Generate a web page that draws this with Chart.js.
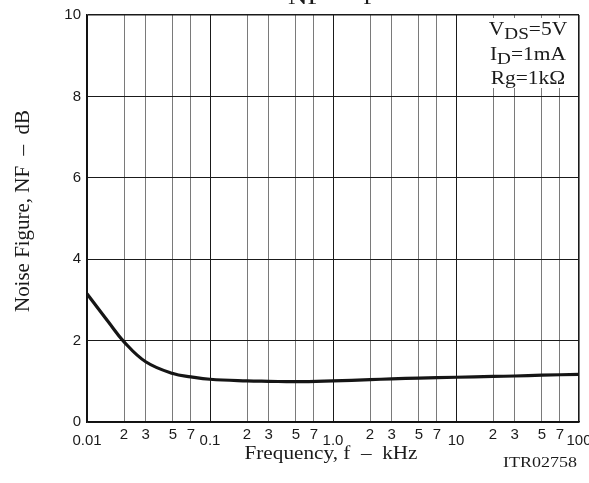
<!DOCTYPE html>
<html>
<head>
<meta charset="utf-8">
<script src="https://cdn.jsdelivr.net/npm/chart.js@4"></script>
<style>
    html, body { margin: 0; padding: 0; background: #fff; }
    canvas { display: block; }
</style>
</head>
<body>
<canvas id="nfChart" width="589" height="483"></canvas>
<script>
// Noise figure vs frequency
const freqKHz = [0.01, 0.015, 0.02, 0.03, 0.05, 0.07, 0.1, 0.2, 0.3, 0.5, 1, 2, 3, 5, 10, 20, 30, 50, 100];
const noiseFigure = [3.15, 2.45, 1.97, 1.48, 1.19, 1.11, 1.05, 1.01, 1.0, 0.99, 1.01, 1.04, 1.06, 1.08, 1.10, 1.12, 1.13, 1.15, 1.17];

// Grid / tick labels
const xTickValues = [0.01, 0.02, 0.03, 0.05, 0.07, 0.1, 0.2, 0.3, 0.5, 0.7, 1, 2, 3, 5, 7, 10, 20, 30, 50, 70, 100];
const xTickLabels = ['0.01', '2', '3', '5', '7', '0.1', '2', '3', '5', '7', '1.0', '2', '3', '5', '7', '10', '2', '3', '5', '7', '100'];
const yTickValues = [0, 2, 4, 6, 8, 10];

// Texts
const chartTitle = 'NF  \u2013  f';
const xTitle = 'Frequency, f  \u2013  kHz';
const yTitle = 'Noise Figure, NF  \u2013  dB';
const figureCode = 'ITR02758';
const paramLines = [
    [['V', false], ['DS', true], ['=5V', false]],
    [['I', false], ['D', true], ['=1mA', false]],
    [['Rg=1k\u03A9', false]],
];

const SANS = '"Liberation Sans", Arial, sans-serif';
const SERIF = '"Liberation Serif", "Times New Roman", serif';

const isDecade = v => Math.abs(Math.log10(v) - Math.round(Math.log10(v))) < 1e-6;

// Draw text squeezed/stretched horizontally to a given width
function fitText(ctx, text, x, y, width, align) {
    const w = ctx.measureText(text).width;
    const sx = width / w;
    ctx.save();
    ctx.translate(x, y);
    ctx.scale(sx, 1);
    ctx.textAlign = align;
    ctx.fillText(text, 0, 0);
    ctx.restore();
}

const labelsPlugin = {
    id: 'nfLabels',
    afterDraw(chart) {
        const { ctx, scales: { x } } = chart;
        ctx.save();
        ctx.fillStyle = '#1a1a1a';
        ctx.textBaseline = 'alphabetic';

        // x tick labels: decades sit lower than 2/3/5/7
        ctx.font = `15px ${SANS}`;
        ctx.textAlign = 'center';
        xTickValues.forEach((v, i) => {
            const px = x.getPixelForValue(v);
            ctx.fillText(xTickLabels[i], px, isDecade(v) ? 445 : 439);
        });

        // condition box
        ctx.fillStyle = '#fff';
        ctx.fillRect(486, 18, 89, 70);
        ctx.fillStyle = '#1a1a1a';
        const sx = 1.13;
        const baselines = [35, 60, 84];
        paramLines.forEach((segs, li) => {
            const parts = segs.map(([t, sub]) => {
                ctx.font = `${sub ? 17 : 19}px ${SERIF}`;
                return { t, sub, w: ctx.measureText(t).width * sx };
            });
            const total = parts.reduce((a, p) => a + p.w, 0);
            let px = 528 - total / 2;
            parts.forEach(p => {
                ctx.font = `${p.sub ? 17 : 19}px ${SERIF}`;
                ctx.save();
                ctx.translate(px, baselines[li] + (p.sub ? 4 : 0));
                ctx.scale(sx, 1);
                ctx.textAlign = 'left';
                ctx.fillText(p.t, 0, 0);
                ctx.restore();
                px += p.w;
            });
        });

        // axis titles
        ctx.font = `18px ${SERIF}`;
        fitText(ctx, xTitle, 331, 459, 173, 'center');

        ctx.save();
        ctx.translate(29, 211);
        ctx.rotate(-Math.PI / 2);
        ctx.font = `20px ${SERIF}`;
        fitText(ctx, yTitle, 0, 0, 202, 'center');
        ctx.restore();

        ctx.font = `15px ${SERIF}`;
        fitText(ctx, figureCode, 503, 467, 74, 'left');

        // title, mostly cut off at the top edge
        ctx.font = `20px ${SERIF}`;
        fitText(ctx, chartTitle, 330, 4, 84, 'center');

        ctx.restore();
    }
};

const canvas = document.getElementById('nfChart');
new Chart(canvas, {
    type: 'line',
    data: {
        datasets: [{
            data: freqKHz.map((f, i) => ({ x: f, y: noiseFigure[i] })),
            borderColor: '#151515',
            borderWidth: 3.2,
            pointRadius: 0,
            tension: 0.4,
            fill: false,
        }],
    },
    options: {
        responsive: false,
        animation: false,
        layout: { padding: { top: 14, right: 10, bottom: 0, left: 0 } },
        plugins: {
            legend: { display: false },
            tooltip: { enabled: false },
        },
        scales: {
            x: {
                type: 'logarithmic',
                min: 0.01,
                max: 100,
                afterBuildTicks: s => { s.ticks = xTickValues.map(v => ({ value: v })); },
                afterFit: s => { s.height = 61; },
                ticks: { display: false },
                grid: {
                    drawTicks: false,
                    color: c => (c.tick && isDecade(c.tick.value) ? '#1a1a1a' : '#7a7a7a'),
                    lineWidth: c => (c.tick && c.tick.value === 100 ? 1.6 : 1),
                },
                border: { color: '#111', width: 1.6 },
            },
            y: {
                min: 0,
                max: 10,
                afterBuildTicks: s => { s.ticks = yTickValues.map(v => ({ value: v })); },
                afterFit: s => { s.width = 87; },
                ticks: {
                    font: { family: SANS, size: 15 },
                    color: '#1a1a1a',
                    padding: 6,
                },
                grid: {
                    drawTicks: false,
                    color: '#1a1a1a',
                    lineWidth: c => (c.tick && c.tick.value === 10 ? 1.6 : 1),
                },
                border: { color: '#111', width: 1.6 },
            },
        },
    },
    plugins: [labelsPlugin],
});
</script>
</body>
</html>
